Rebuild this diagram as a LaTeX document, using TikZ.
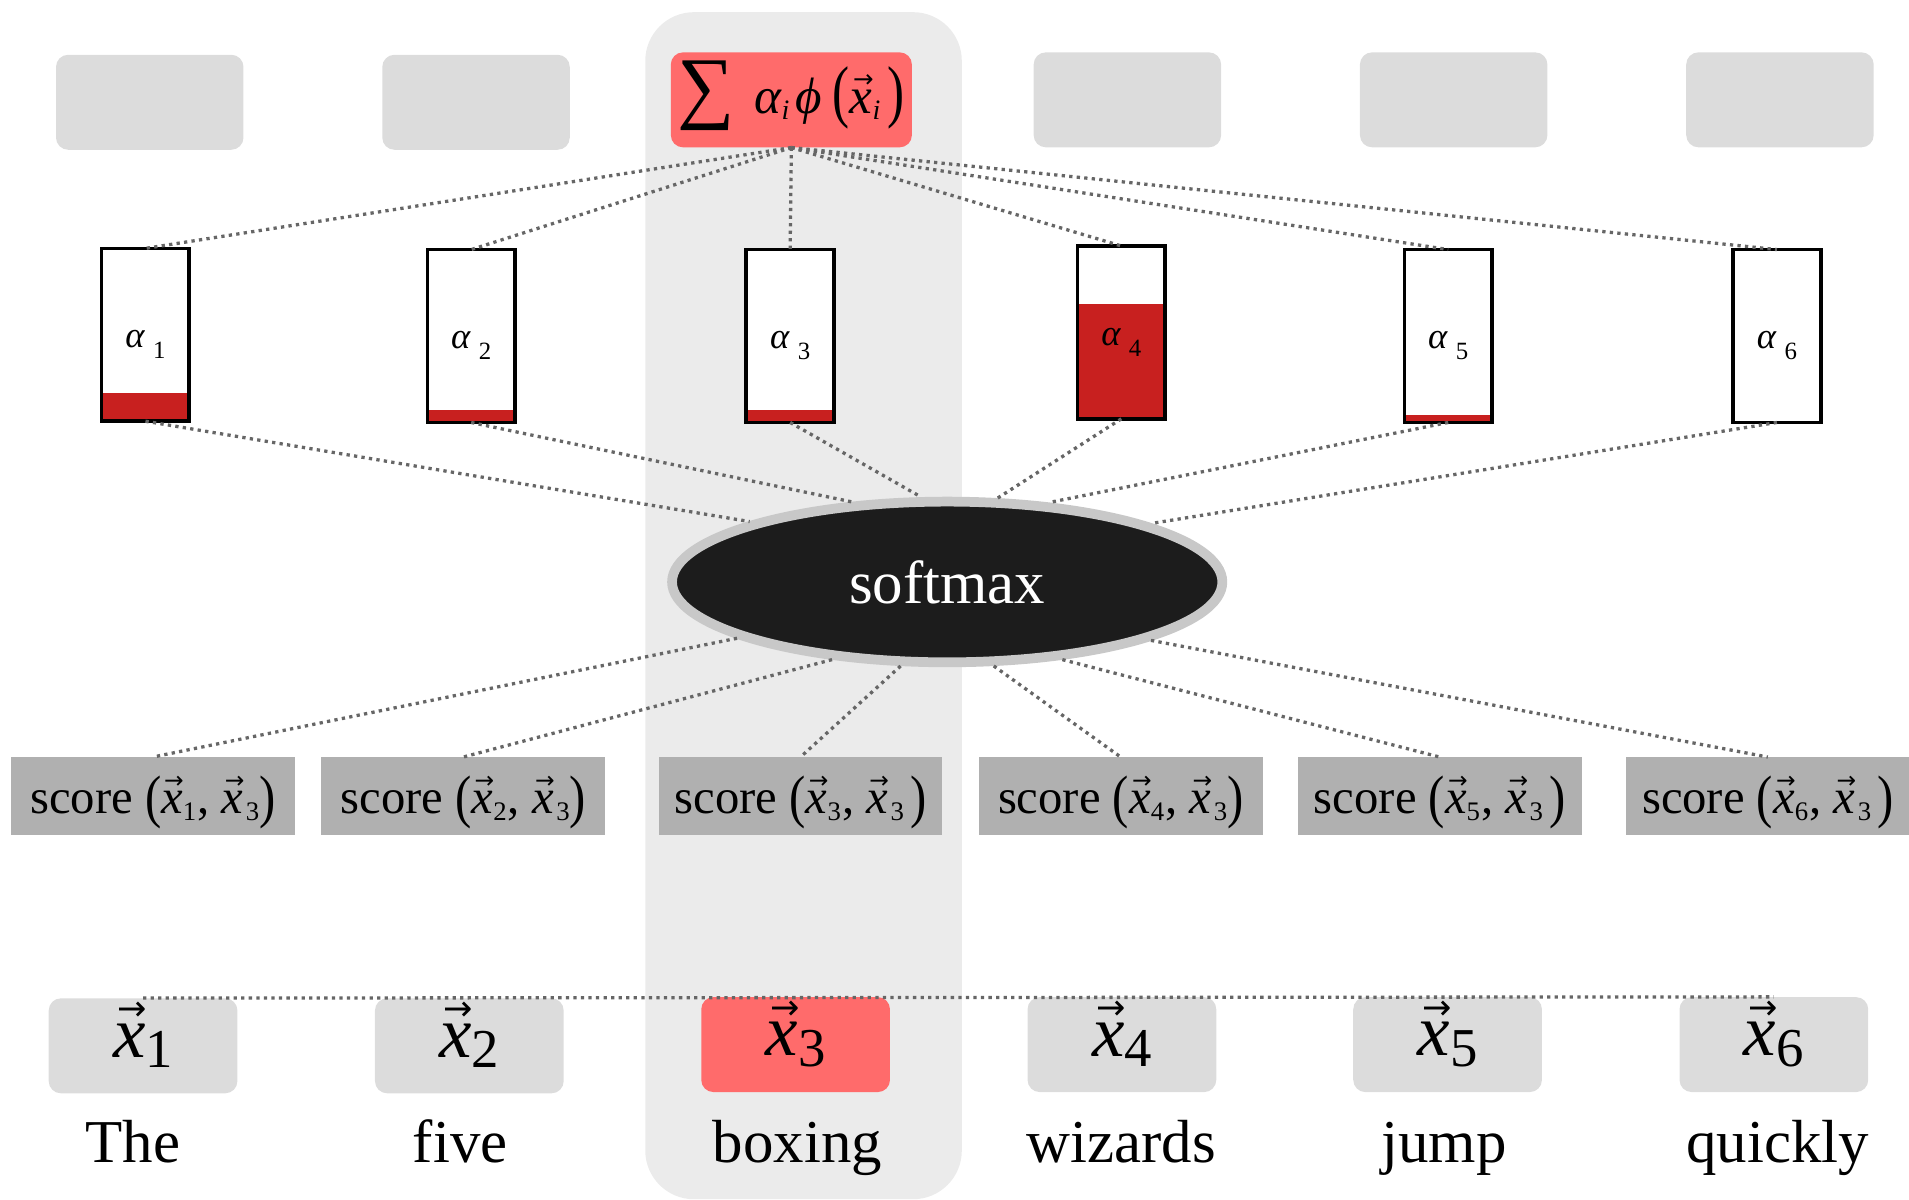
\documentclass[tikz,border=0pt]{standalone}
\usepackage{fontspec}
\setmainfont{Liberation Serif}
\newfontfamily\arrowfont{DejaVu Sans}
\usetikzlibrary{shapes.geometric}

\definecolor{colbg}{HTML}{EBEBEB}
\definecolor{boxgray}{HTML}{DCDCDC}
\definecolor{hlred}{HTML}{FF6B6B}
\definecolor{barred}{HTML}{C8201F}
\definecolor{scoregray}{HTML}{B0B0B0}
\definecolor{dotgray}{HTML}{666666}
\definecolor{ellborder}{HTML}{C8C8C8}
\definecolor{ellfill}{HTML}{1C1C1C}

% font size relative to the current one
\newcommand{\rsize}[1]{\edef\tmpsz{\the\dimexpr #1em\relax}\fontsize{\tmpsz}{\tmpsz}\selectfont}
% italic x with a vector arrow
\newcommand{\vx}{{\ooalign{\itshape x\cr\hidewidth\kern0.08em\raisebox{0.5em}{\arrowfont\rsize{0.48}\char"2192}\hidewidth\cr}}}
% lowered subscript: scale, drop, text
\newcommand{\lowsub}[3]{\raisebox{-#2em}{\rsize{#1}#3}}
% tall parenthesis: vertical scale, drop, glyph
\newcommand{\tp}[3]{\raisebox{-#2em}{\scalebox{1}[#1]{#3}}}
\newcommand{\scorelbl}[2]{score\ \tp{1.2}{0.07}{(}\vx\lowsub{0.55}{0.14}{#1}\kern1pt,\ \vx\kern2pt\lowsub{0.55}{0.14}{3}#2\tp{1.2}{0.07}{)}}

\tikzset{
  topbox/.style={fill=boxgray, rounded corners=10pt, minimum width=154pt, minimum height=78pt, inner sep=0pt},
  sumbox/.style={fill=hlred, rounded corners=10pt, minimum width=198pt, minimum height=78pt, inner sep=0pt, text height=30pt, text depth=8pt},
  alphabox/.style={draw=black, fill=white, line width=3pt, minimum width=72pt, minimum height=142pt, inner sep=0pt, outer sep=0pt},
  alphalbl/.style={inner sep=0pt, font=\fontsize{30}{30}\selectfont},
  smax/.style={ellipse, fill=ellfill, draw=ellborder, line width=8pt, minimum width=452pt, minimum height=132pt, text=white, font=\fontsize{50}{50}\selectfont},
  scorebox/.style={fill=scoregray, minimum width=233pt, minimum height=64pt, inner sep=0pt, text height=33pt, text depth=5pt, font=\fontsize{40}{40}\selectfont},
  xbox/.style={fill=boxgray, rounded corners=10pt, minimum width=155pt, minimum height=78pt, inner sep=0pt, font=\fontsize{60}{60}\selectfont},
  xred/.style={xbox, fill=hlred},
  word/.style={anchor=base, inner sep=0pt, font=\fontsize{50}{50}\selectfont},
  link/.style={draw=dotgray, line width=2.7pt, dash pattern=on 2.7pt off 3.5pt},
}

\begin{document}
\begin{tikzpicture}[x=1pt, y=-1pt]
\useasboundingbox (0,0) rectangle (1568,985);

% highlighted column of the query word
\fill[colbg, rounded corners=40pt] (530,10) rectangle (790,985);

% output row
\foreach \n/\x/\y in {t1/123/84, t2/391/84, t4/926/82, t5/1194/82, t6/1462/82}
  \node[topbox] (\n) at (\x,\y) {};
\node[sumbox, font=\fontsize{42}{42}\selectfont] (sum) at (650,82)
  {{\fontsize{66}{66}\selectfont\char"2211}\hspace{16pt}{\itshape α}\lowsub{0.55}{0.12}{\itshape i}\hspace{5pt}{\itshape\char"03D5}\hspace{9pt}\tp{1.35}{0.03}{(}\vx\lowsub{0.55}{0.12}{\itshape i}\hspace{6pt}\tp{1.35}{0.03}{)}};

% attention weights
\foreach \i/\x/\y/\h in {1/119.5/275/23, 2/387/276/10, 3/649/276/10, 4/921/273/94, 5/1189.5/276/6, 6/1459.5/276/0} {
  \node[alphabox] (a\i) at (\x,\y) {};
  \ifdim \h pt>0pt
    \fill[barred] ([shift={(1.5pt,1.5pt)}]a\i.south west) rectangle ([shift={(-1.5pt,\h pt)}]a\i.south east);
  \fi
  \node[alphalbl] (al\i) at ([yshift=-8pt]a\i.center) {{\itshape α}\hspace{7pt}\lowsub{0.68}{0.3}{\i}};
}

% softmax
\node[smax] (sm) at (778,478) {softmax};

% scores
\node[scorebox] (s1) at (125.5,654) {\scorelbl{1}{}};
\node[scorebox] (s2) at (380.5,654) {\scorelbl{2}{}};
\node[scorebox] (s3) at (657.5,654) {\scorelbl{3}{\hspace{5pt}}};
\node[scorebox] (s4) at (920.5,654) {\scorelbl{4}{}};
\node[scorebox] (s5) at (1182.5,654) {\scorelbl{5}{\hspace{5pt}}};
\node[scorebox] (s6) at (1452,654) {\scorelbl{6}{\hspace{5pt}}};

% input vectors and words
\node[xbox] (x1) at (117.5,859) {\vx\lowsub{0.75}{0.14}{1}};
\node[xbox] (x2) at (385.5,859) {\vx\lowsub{0.75}{0.14}{2}};
\node[xred] (x3) at (653.5,858) {\vx\lowsub{0.75}{0.14}{3}};
\node[xbox] (x4) at (921.5,858) {\vx\lowsub{0.75}{0.14}{4}};
\node[xbox] (x5) at (1189,858) {\vx\lowsub{0.75}{0.14}{5}};
\node[xbox] (x6) at (1457,858) {\vx\lowsub{0.75}{0.14}{6}};

\node[word] (w1) at (109,955) {The};
\node[word] (w2) at (378,955) {five};
\node[word] (w3) at (655,955) {boxing};
\node[word] (w4) at (921,955) {wizards};
\node[word] (w5) at (1186,955) {jump};
\node[word] (w6) at (1460,955) {quickly};

% connectors
\foreach \i in {1,...,6} \draw[link] (sum.south) -- (a\i.north);
\foreach \i/\ang in {1/163.6, 2/140.4, 3/107, 4/59.5, 5/38.6, 6/16.5}
  \draw[link] (a\i.south) -- (sm.\ang);
\foreach \i/\ang in {1/195.4, 2/214.5, 3/241.3, 4/299.4, 5/326, 6/344.8}
  \draw[link] (sm.\ang) -- (s\i.north);
\draw[link] (x1.north) -- (x6.north);
\end{tikzpicture}
\end{document}
